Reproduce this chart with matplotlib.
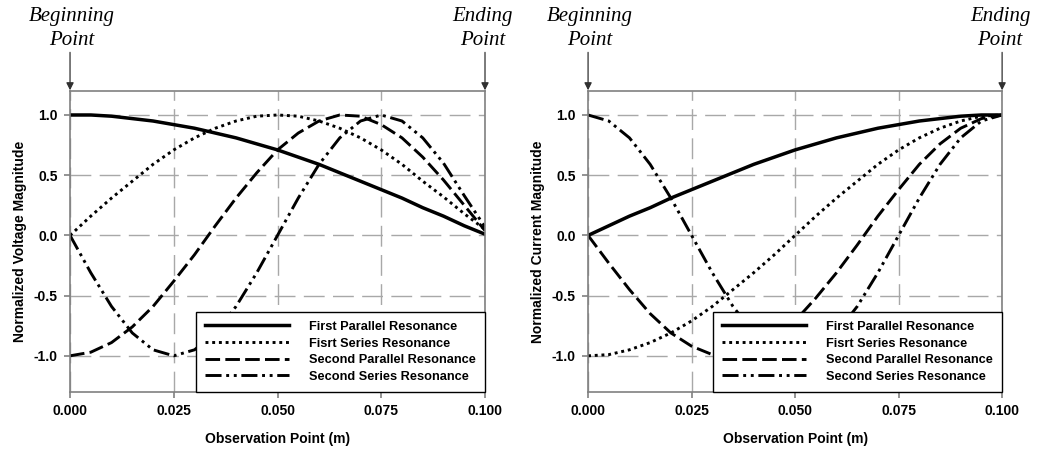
import matplotlib
matplotlib.use("Agg")
import matplotlib.pyplot as plt

plt.rcParams["font.family"] = ["Liberation Sans", "DejaVu Sans"]

# observation points along the line (m)
x = [0.000, 0.005, 0.010, 0.015, 0.020, 0.025, 0.030, 0.035, 0.040, 0.045, 0.050,
     0.055, 0.060, 0.065, 0.070, 0.075, 0.080, 0.085, 0.090, 0.095, 0.100]

# normalized voltage magnitude
v_first_par = [1.00, 1.00, 0.99, 0.97, 0.95, 0.92, 0.89, 0.85, 0.81, 0.76, 0.71,
               0.65, 0.59, 0.52, 0.45, 0.38, 0.31, 0.23, 0.16, 0.08, 0.01]
v_first_ser = [0.00, 0.16, 0.31, 0.45, 0.59, 0.71, 0.81, 0.89, 0.95, 0.99, 1.00,
               0.99, 0.95, 0.89, 0.81, 0.71, 0.59, 0.45, 0.32, 0.18, 0.05]
v_second_par = [-1.00, -0.97, -0.89, -0.76, -0.59, -0.38, -0.16, 0.08, 0.31, 0.52, 0.71,
                0.85, 0.95, 1.00, 0.99, 0.92, 0.81, 0.65, 0.46, 0.25, 0.04]
v_second_ser = [0.00, -0.31, -0.59, -0.81, -0.95, -1.00, -0.95, -0.81, -0.59, -0.31, 0.00,
                0.31, 0.59, 0.81, 0.95, 1.00, 0.95, 0.81, 0.60, 0.33, 0.07]

# normalized current magnitude
i_first_par = [0.00, 0.08, 0.16, 0.23, 0.31, 0.38, 0.45, 0.52, 0.59, 0.65, 0.71,
               0.76, 0.81, 0.85, 0.89, 0.92, 0.95, 0.97, 0.99, 1.00, 1.00]
i_first_ser = [-1.00, -0.99, -0.95, -0.89, -0.81, -0.71, -0.59, -0.45, -0.31, -0.16, 0.00,
               0.16, 0.31, 0.45, 0.59, 0.71, 0.81, 0.89, 0.95, 0.99, 1.00]
i_second_par = [0.00, -0.23, -0.45, -0.65, -0.81, -0.92, -0.99, -1.00, -0.95, -0.85, -0.71,
                -0.52, -0.31, -0.08, 0.16, 0.38, 0.59, 0.76, 0.89, 0.97, 1.00]
i_second_ser = [1.00, 0.95, 0.81, 0.59, 0.31, 0.00, -0.31, -0.59, -0.81, -0.95, -1.00,
                -0.95, -0.81, -0.59, -0.31, 0.00, 0.31, 0.59, 0.81, 0.95, 1.00]

labels = ["First Parallel Resonance", "Fisrt Series Resonance",
          "Second Parallel Resonance", "Second Series Resonance"]
styles = ["-", (0, (1, 1.3)), (0, (5, 1.8)), (0, (5.5, 1.6, 1, 1.6, 1, 1.6))]
x_ticks = [0.000, 0.025, 0.050, 0.075, 0.100]
y_ticks = [-1.0, -0.5, 0.0, 0.5, 1.0]

fig = plt.figure(figsize=(10.39, 4.5), dpi=100)
ax1 = fig.add_axes([0.0674, 0.129, 0.3994, 0.669])
ax2 = fig.add_axes([0.566, 0.129, 0.3985, 0.669])

panels = [
    (ax1, [v_first_par, v_first_ser, v_second_par, v_second_ser], "Normalized Voltage Magnitude"),
    (ax2, [i_first_par, i_first_ser, i_second_par, i_second_ser], "Normalized Current Magnitude"),
]

serif = ["Liberation Serif", "DejaVu Serif"]

for ax, series, ylabel in panels:
    for ys, ls, lab in zip(series, styles, labels):
        lw = 2.5 if ls == "-" else 2.1
        ax.plot(x, ys, color="black", linestyle=ls, linewidth=lw, label=lab,
                dash_capstyle="butt")
    ax.set_xlim(0, 0.1)
    ax.set_ylim(-1.3, 1.2)
    ax.set_xticks(x_ticks)
    ax.set_xticklabels(["%.3f" % t for t in x_ticks], fontweight="bold", fontsize=10)
    ax.set_yticks(y_ticks)
    ax.set_yticklabels(["%.1f" % t for t in y_ticks], fontweight="bold", fontsize=10)
    ax.grid(True, color="#a8a8a8", linestyle=(0, (15, 6)), linewidth=1.0)
    ax.set_axisbelow(True)
    for sp in ax.spines.values():
        sp.set_color("#808080")
        sp.set_linewidth(1.2)
    ax.tick_params(direction="out", length=4, color="#808080", width=1.2, pad=5)
    ax.set_xlabel("Observation Point (m)", fontweight="bold", fontsize=10, labelpad=10)
    ax.set_ylabel(ylabel, fontweight="bold", fontsize=10, labelpad=5)
    leg = ax.legend(loc="lower right", borderaxespad=0, fancybox=False,
                    framealpha=1, edgecolor="black", handlelength=6.6,
                    prop={"weight": "bold", "size": 9.2}, labelspacing=0.36,
                    handletextpad=1.55, borderpad=0.72)
    leg.get_frame().set_linewidth(1.0)

    # beginning / ending point markers above the plot
    for xp in [0.0, 0.1]:
        ax.annotate("", xy=(xp, 1.205), xycoords="data",
                    xytext=(xp, 1.52), textcoords="data",
                    arrowprops=dict(arrowstyle="-|>", color="#303030", lw=0.9,
                                    mutation_scale=11, shrinkA=0, shrinkB=0),
                    annotation_clip=False)
    ax.text(0.0005, 1.54, "Beginning\nPoint", ha="center", va="bottom",
            fontsize=15, style="italic", family=serif,
            linespacing=1.35, clip_on=False)
    ax.text(0.0995, 1.54, "Ending\nPoint", ha="center", va="bottom",
            fontsize=15, style="italic", family=serif,
            linespacing=1.35, clip_on=False)

fig.savefig("out.png", dpi=100)
